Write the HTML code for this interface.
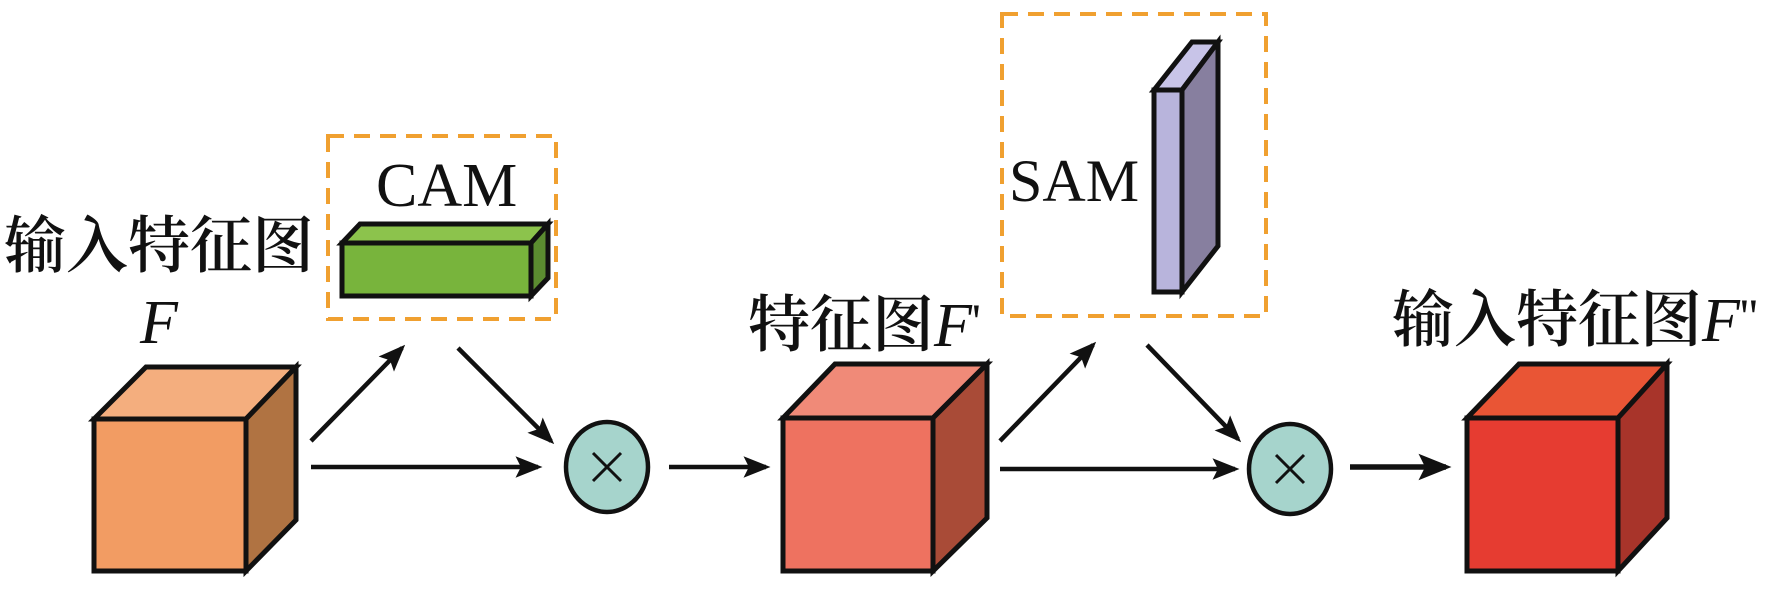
<!DOCTYPE html>
<html><head><meta charset="utf-8"><style>
html,body{margin:0;padding:0;background:#fff;width:1772px;height:590px;overflow:hidden}
svg{display:block}
.cn{font-family:"Liberation Serif","Noto Serif CJK SC",serif;font-weight:600}
.it{font-family:"Liberation Serif",serif;font-style:italic}
.rm{font-family:"Liberation Serif",serif}
</style></head><body>
<svg width="1772" height="590" viewBox="0 0 1772 590" xmlns="http://www.w3.org/2000/svg">
<defs>
<marker id="ah" markerWidth="6" markerHeight="6" refX="5" refY="3" orient="auto" markerUnits="strokeWidth">
<path d="M0,0.6 L6,3 L0,5.4 L1.2,3 z" fill="#111"/></marker>
</defs>
<g stroke="#111" stroke-width="5" stroke-linejoin="miter">
<polygon points="94,419 146,367 296,367 246,419" fill="#f4ae7e"/>
<polygon points="246,419 296,367 296,520 246,571" fill="#b07342"/>
<rect x="94" y="419" width="152" height="152" fill="#f29c63"/>
<polygon points="783,418 835,364 987,364 933,418" fill="#f08a78"/>
<polygon points="933,418 987,364 987,518 933,571" fill="#a94b37"/>
<rect x="783" y="418" width="150" height="153" fill="#ee7260"/>
<polygon points="1467,418 1519,364 1667,364 1618,418" fill="#e95535"/>
<polygon points="1618,418 1667,364 1667,518 1618,571" fill="#a8342a"/>
<rect x="1467" y="418" width="151" height="153" fill="#e63c31"/>
<polygon points="342,243 360,224 548,224 531,243" fill="#8cc34c"/>
<polygon points="531,243 548,224 548,278 531,296" fill="#5b8c30"/>
<rect x="342" y="243" width="189" height="53" fill="#78b43c"/>
<polygon points="1154,90 1192,42 1218,42 1182,90" fill="#c8c4e8"/>
<polygon points="1182,90 1218,42 1218,246 1182,292" fill="#877f9f"/>
<rect x="1154" y="90" width="28" height="202" fill="#b8b4dc"/>
</g>
<g fill="none" stroke="#f0a030" stroke-width="4" stroke-dasharray="16,10">
<rect x="328" y="136" width="228" height="183"/>
<rect x="1002" y="14" width="264" height="302"/>
</g>
<g stroke="#111" stroke-width="4.5" fill="none" marker-end="url(#ah)">
<line x1="311" y1="441" x2="402" y2="348"/>
<line x1="458" y1="348" x2="551" y2="441"/>
<line x1="311" y1="467" x2="538" y2="467"/>
<line x1="669" y1="467" x2="766" y2="467"/>
<line x1="1000" y1="441" x2="1093" y2="345"/>
<line x1="1147" y1="345" x2="1238" y2="439"/>
<line x1="1000" y1="469" x2="1235" y2="469"/>
<line x1="1350" y1="467" x2="1446" y2="467" stroke-width="5.5"/>
</g>
<g stroke="#111" stroke-width="4.5" fill="#a6d4cc">
<ellipse cx="607" cy="467" rx="41" ry="45"/>
<ellipse cx="1290" cy="469" rx="41" ry="45"/>
</g>
<g stroke="#111" stroke-width="3">
<line x1="593" y1="453" x2="621" y2="481"/><line x1="621" y1="453" x2="593" y2="481"/>
<line x1="1276" y1="455" x2="1304" y2="483"/><line x1="1304" y1="455" x2="1276" y2="483"/>
</g>
<text x="4" y="267" class="cn" font-size="62" fill="#111">输入特征图</text>
<text x="140" y="343" class="it" font-size="62" fill="#111">F</text>
<text x="376" y="206" class="rm" font-size="62" fill="#111">CAM</text>
<text x="1009" y="201" class="rm" font-size="60" fill="#111">SAM</text>
<text x="748" y="346" class="cn" font-size="62" fill="#111">特征图<tspan class="it" font-weight="400" font-size="62">F</tspan><tspan class="rm" font-weight="400" font-size="50" dy="-8">'</tspan></text>
<text x="1392" y="341" class="cn" font-size="62" fill="#111">输入特征图<tspan class="it" font-weight="400" font-size="62">F</tspan><tspan class="rm" font-weight="400" font-size="50" dy="-8">''</tspan></text>
</svg>
</body></html>
